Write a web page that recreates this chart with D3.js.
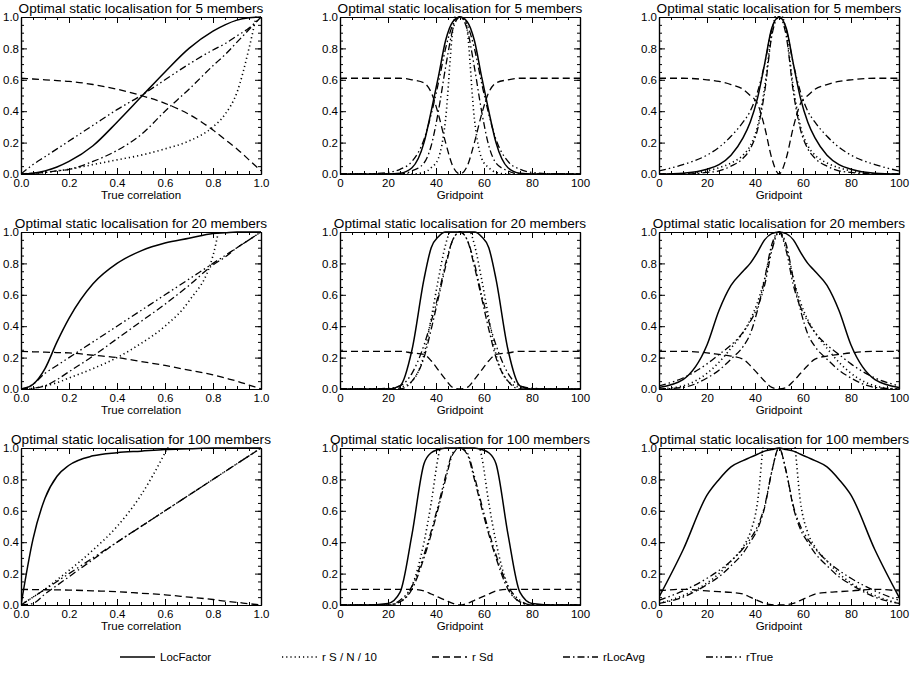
<!DOCTYPE html>
<html><head><meta charset="utf-8">
<script src="https://cdn.jsdelivr.net/npm/d3@7"></script>
<style>body{margin:0;background:#fff}text{font-family:"Liberation Sans",Arial,sans-serif}</style>
</head><body><svg id="c" width="917" height="675"></svg>
<script>
// ---------- data ----------
const seriesNames = ["LocFactor", "r S / N  / 10", "r Sd", "rLocAvg", "rTrue"];
const memberCounts = [5, 20, 100];
const corrX = [0, 0.05, 0.1, 0.15, 0.2, 0.3, 0.4, 0.5, 0.6, 0.7, 0.8, 0.85, 0.9, 0.95, 1.0];
const gridX = [0, 10, 20, 25, 30, 35, 38, 41, 44, 47, 50, 53, 56, 59, 62, 65, 70, 75, 80, 90, 100];

// Column 1: true correlation panels
const c5_loc  = [0, .005, .02, .045, .08, .18, .33, .49, .65, .80, .91, .95, .98, .995, 1.0];
const c5_sn   = [0, .005, .01, .02, .03, .06, .09, .12, .16, .21, .30, .38, .52, .80, 1.15];
const c5_sd   = [.61, .605, .60, .595, .59, .57, .54, .50, .45, .38, .28, .22, .16, .09, .02];
const c5_la   = [0, .005, .01, .02, .03, .08, .15, .25, .40, .54, .69, .76, .84, .92, 1.0];
const c5_rt   = [0, .06, .11, .16, .21, .31, .41, .50, .60, .70, .79, .83, .88, .93, 1.0];

const c20_loc = [0, .03, .13, .30, .45, .67, .80, .88, .93, .96, .99, .995, 1, 1, 1];
const c20_sn  = [0, .005, .02, .04, .07, .13, .20, .29, .40, .56, .85, 1.2, 1.5, 1.8, 2.0];
const c20_sd  = [.24, .237, .235, .232, .23, .215, .20, .175, .15, .12, .09, .07, .05, .025, 0];
const c20_la  = [0, .005, .02, .06, .11, .21, .32, .43, .54, .66, .79, .84, .90, .95, 1.0];
const c20_rt  = [0, .03, .10, .15, .20, .30, .40, .50, .60, .70, .80, .85, .90, .95, 1.0];

const c100_loc = [0, .42, .68, .82, .89, .95, .97, .98, .99, .995, 1, 1, 1, 1, 1];
const c100_sn  = [0, .05, .10, .16, .22, .35, .50, .70, .97, 1.3, 1.6, 1.8, 2.0, 2.2, 2.4];
const c100_sd  = [.10, .098, .097, .096, .095, .09, .085, .075, .065, .05, .035, .025, .017, .008, 0];
const c100_la  = [0, .01, .07, .125, .18, .29, .40, .50, .60, .70, .80, .85, .90, .95, 1.0];
const c100_rt  = [0, .05, .10, .15, .20, .30, .40, .50, .60, .70, .80, .85, .90, .95, 1.0];

// Column 2: gridpoint panels (first set)
const g5a_loc = [0, 0, 0, .005, .04, .20, .40, .62, .85, .97, 1, .97, .85, .62, .40, .20, .04, .005, 0, 0, 0];
const g5a_sn  = [0, 0, 0, 0, 0, .01, .04, .10, .35, .92, 1.1, .92, .35, .10, .04, .01, 0, 0, 0, 0, 0];
const g5a_sd  = [.61, .61, .61, .61, .60, .58, .52, .38, .20, .05, 0, .05, .20, .38, .52, .58, .60, .61, .61, .61, .61];
const g5a_la  = [0, 0, 0, 0, .02, .07, .18, .40, .68, .92, 1, .92, .68, .40, .18, .07, .02, 0, 0, 0, 0];
const g5a_rt  = [0, 0, .01, .03, .08, .22, .38, .58, .80, .95, 1, .95, .80, .58, .38, .22, .08, .03, .01, 0, 0];

const g20a_loc = [0, 0, 0, .02, .25, .70, .90, .97, 1, 1, 1, 1, 1, .97, .90, .70, .25, .02, 0, 0, 0];
const g20a_sn  = [0, 0, 0, .01, .05, .22, .45, .70, .92, 1.05, 1.1, 1.05, .92, .70, .45, .22, .05, .01, 0, 0, 0];
const g20a_sd  = [.24, .24, .24, .24, .23, .22, .18, .12, .06, .01, 0, .01, .06, .12, .18, .22, .23, .24, .24, .24, .24];
const g20a_la  = [0, 0, 0, 0, .05, .20, .38, .58, .78, .95, 1, .95, .78, .58, .38, .20, .05, 0, 0, 0, 0];
const g20a_rt  = [0, 0, .005, .02, .10, .28, .43, .60, .80, .95, 1, .95, .80, .60, .43, .28, .10, .02, .005, 0, 0];

const g100a_loc = [0, 0, .01, .08, .45, .90, .97, .99, 1, 1, 1, 1, 1, .99, .97, .90, .45, .08, .01, 0, 0];
const g100a_sn  = [0, 0, 0, .02, .12, .40, .65, .95, 1.1, 1.2, 1.2, 1.2, 1.1, .95, .65, .40, .12, .02, 0, 0, 0];
const g100a_sd  = [.10, .10, .10, .10, .10, .09, .07, .05, .03, .01, 0, .01, .03, .05, .07, .09, .10, .10, .10, .10, .10];
const g100a_la  = [0, 0, 0, .02, .10, .30, .45, .62, .80, .96, 1, .96, .80, .62, .45, .30, .10, .02, 0, 0, 0];
const g100a_rt  = [0, 0, 0, .03, .12, .32, .47, .64, .82, .97, 1, .97, .82, .64, .47, .32, .12, .03, 0, 0, 0];

// Column 3: gridpoint panels (second set)
const g5b_loc = [0, .005, .03, .06, .12, .23, .33, .48, .70, .93, 1, .93, .70, .48, .33, .23, .12, .06, .03, .005, 0];
const g5b_sn  = [0, 0, .02, .04, .07, .12, .18, .30, .55, .90, 1.05, .90, .55, .30, .18, .12, .07, .04, .02, 0, 0];
const g5b_sd  = [.61, .61, .60, .59, .57, .54, .50, .45, .30, .10, 0, .10, .30, .45, .50, .54, .57, .59, .60, .61, .61];
const g5b_la  = [0, 0, .01, .02, .05, .10, .16, .28, .52, .88, 1, .88, .52, .28, .16, .10, .05, .02, .01, 0, 0];
const g5b_rt  = [.02, .06, .12, .17, .24, .33, .40, .52, .70, .92, 1, .92, .70, .52, .40, .33, .24, .17, .12, .06, .02];

const g20b_loc = [.01, .06, .28, .50, .66, .75, .80, .87, .95, .99, 1, .99, .95, .87, .80, .75, .66, .50, .28, .06, .01];
const g20b_sn  = [0, .02, .10, .17, .26, .36, .44, .55, .70, .90, 1, .90, .70, .55, .44, .36, .26, .17, .10, .02, 0];
const g20b_sd  = [.24, .24, .23, .22, .21, .19, .15, .10, .05, .01, 0, .01, .05, .10, .15, .19, .21, .22, .23, .24, .24];
const g20b_la  = [0, .01, .07, .12, .19, .27, .35, .50, .70, .92, 1, .92, .70, .50, .35, .27, .19, .12, .07, .01, 0];
const g20b_rt  = [.02, .07, .16, .22, .28, .36, .43, .52, .66, .88, 1, .88, .66, .52, .43, .36, .28, .22, .16, .07, .02];

const g100b_loc = [.05, .35, .70, .80, .88, .92, .94, .96, .98, .99, 1, .99, .98, .96, .94, .92, .88, .80, .70, .35, .05];
const g100b_sn  = [.01, .06, .14, .20, .28, .37, .46, .65, 1.1, 1.3, 1.4, 1.3, 1.1, .65, .46, .37, .28, .20, .14, .06, .01];
const g100b_sd  = [.09, .10, .09, .085, .08, .07, .05, .03, .01, .002, 0, .002, .01, .03, .05, .07, .08, .085, .09, .10, .09];
const g100b_la  = [.01, .05, .13, .18, .25, .33, .40, .48, .62, .85, 1, .85, .62, .48, .40, .33, .25, .18, .13, .05, .01];
const g100b_rt  = [.03, .09, .17, .22, .28, .36, .42, .50, .63, .85, 1, .85, .63, .50, .42, .36, .28, .22, .17, .09, .03];

const corrTicks = [0, 0.2, 0.4, 0.6, 0.8, 1.0];
const gridTicks = [0, 20, 40, 60, 80, 100];
const yTicks = [0, 0.2, 0.4, 0.6, 0.8, 1.0];

// ---------- layout ----------
const panels = [
  [ {x: corrX, s: [c5_loc, c5_sn, c5_sd, c5_la, c5_rt], kind: "corr"},
    {x: gridX, s: [g5a_loc, g5a_sn, g5a_sd, g5a_la, g5a_rt], kind: "grid"},
    {x: gridX, s: [g5b_loc, g5b_sn, g5b_sd, g5b_la, g5b_rt], kind: "grid"} ],
  [ {x: corrX, s: [c20_loc, c20_sn, c20_sd, c20_la, c20_rt], kind: "corr"},
    {x: gridX, s: [g20a_loc, g20a_sn, g20a_sd, g20a_la, g20a_rt], kind: "grid"},
    {x: gridX, s: [g20b_loc, g20b_sn, g20b_sd, g20b_la, g20b_rt], kind: "grid"} ],
  [ {x: corrX, s: [c100_loc, c100_sn, c100_sd, c100_la, c100_rt], kind: "corr"},
    {x: gridX, s: [g100a_loc, g100a_sn, g100a_sd, g100a_la, g100a_rt], kind: "grid"},
    {x: gridX, s: [g100b_loc, g100b_sn, g100b_sd, g100b_la, g100b_rt], kind: "grid"} ]
];
const dashes = [null, "1.2,3", "7,4", "7,3,1.5,3", "7,3,1.5,3,1.5,3"];
const widths = [1.5, 1.6, 1.3, 1.3, 1.3];
const colLeft = [21, 340, 659], rowTop = [17, 232, 448], W = 240, H = 157;

const svg = d3.select("#c");
const defs = svg.append("defs");

panels.forEach((row, ri) => row.forEach((p, ci) => {
  const x0 = colLeft[ci], y0 = rowTop[ri];
  const xs = d3.scaleLinear().domain(p.kind === "corr" ? [0, 1] : [0, 100]).range([x0, x0 + W]);
  const ys = d3.scaleLinear().domain([0, 1]).range([y0 + H, y0]);
  const ticks = p.kind === "corr" ? corrTicks : gridTicks;
  const id = "clip" + ri + ci;
  defs.append("clipPath").attr("id", id).append("rect").attr("x", x0).attr("y", y0 - 1).attr("width", W).attr("height", H + 2);

  svg.append("text").attr("x", x0 + W / 2).attr("y", y0 - 4).attr("text-anchor", "middle")
    .attr("font-size", 13.6).text("Optimal static localisation for " + memberCounts[ri] + " members");

  const g = svg.append("g").attr("clip-path", `url(#${id})`);
  p.s.forEach((vals, k) => {
    const line = d3.line().x((d, i) => xs(p.x[i])).y(d => ys(d)).curve(d3.curveMonotoneX);
    g.append("path").attr("d", line(vals)).attr("fill", "none").attr("stroke", "#000")
      .attr("stroke-width", widths[k]).attr("stroke-dasharray", dashes[k]);
  });

  const xMinor = d3.range(0, 21).map(i => xs.domain()[0] + i * (xs.domain()[1] - xs.domain()[0]) / 20);
  const yMinor = d3.range(0, 21).map(i => i / 20);
  const ax = svg.append("g");
  ax.append("g").attr("transform", `translate(0,${y0 + H})`)
    .call(d3.axisBottom(xs).tickValues(ticks).tickSizeInner(-6).tickSizeOuter(0).tickPadding(4)
      .tickFormat(p.kind === "corr" ? d3.format(".1f") : d3.format("d")))
    .call(s => s.selectAll(".tick text").attr("font-size", 11.5).attr("y", 5));
  ax.append("g").attr("transform", `translate(0,${y0})`)
    .call(d3.axisTop(xs).tickValues(ticks).tickSizeInner(-6).tickSizeOuter(0).tickFormat(""));
  ax.append("g").attr("transform", `translate(0,${y0 + H})`)
    .call(d3.axisBottom(xs).tickValues(xMinor).tickSizeInner(-3).tickSizeOuter(0).tickFormat(""));
  ax.append("g").attr("transform", `translate(0,${y0})`)
    .call(d3.axisTop(xs).tickValues(xMinor).tickSizeInner(-3).tickSizeOuter(0).tickFormat(""));
  ax.append("g").attr("transform", `translate(${x0},0)`)
    .call(d3.axisLeft(ys).tickValues(yTicks).tickSizeInner(-6).tickSizeOuter(0).tickFormat(d3.format(".1f")))
    .call(s => s.selectAll(".tick text").attr("font-size", 11.5).attr("x", -2));
  ax.append("g").attr("transform", `translate(${x0 + W},0)`)
    .call(d3.axisRight(ys).tickValues(yTicks).tickSizeInner(-6).tickSizeOuter(0).tickFormat(""));
  ax.append("g").attr("transform", `translate(${x0},0)`)
    .call(d3.axisLeft(ys).tickValues(yMinor).tickSizeInner(-3).tickSizeOuter(0).tickFormat(""));
  ax.append("g").attr("transform", `translate(${x0 + W},0)`)
    .call(d3.axisRight(ys).tickValues(yMinor).tickSizeInner(-3).tickSizeOuter(0).tickFormat(""));
  ax.selectAll(".domain").attr("stroke", "#000").attr("stroke-width", 1.2);
  ax.selectAll("text").attr("fill", "#000").attr("font-family", '"Liberation Sans",Arial,sans-serif');

  svg.append("text").attr("x", x0 + W / 2).attr("y", y0 + H + 25).attr("text-anchor", "middle")
    .attr("font-size", 11.5).text(p.kind === "corr" ? "True correlation" : "Gridpoint");
}));

// legend
const legX = [120, 282, 432, 563, 706];
seriesNames.forEach((n, k) => {
  svg.append("line").attr("x1", legX[k]).attr("x2", legX[k] + 35).attr("y1", 657).attr("y2", 657)
    .attr("stroke", "#000").attr("stroke-width", widths[k]).attr("stroke-dasharray", dashes[k]);
  svg.append("text").attr("x", legX[k] + 40).attr("y", 661).attr("font-size", 11.5).text(n);
});
</script></body></html>
